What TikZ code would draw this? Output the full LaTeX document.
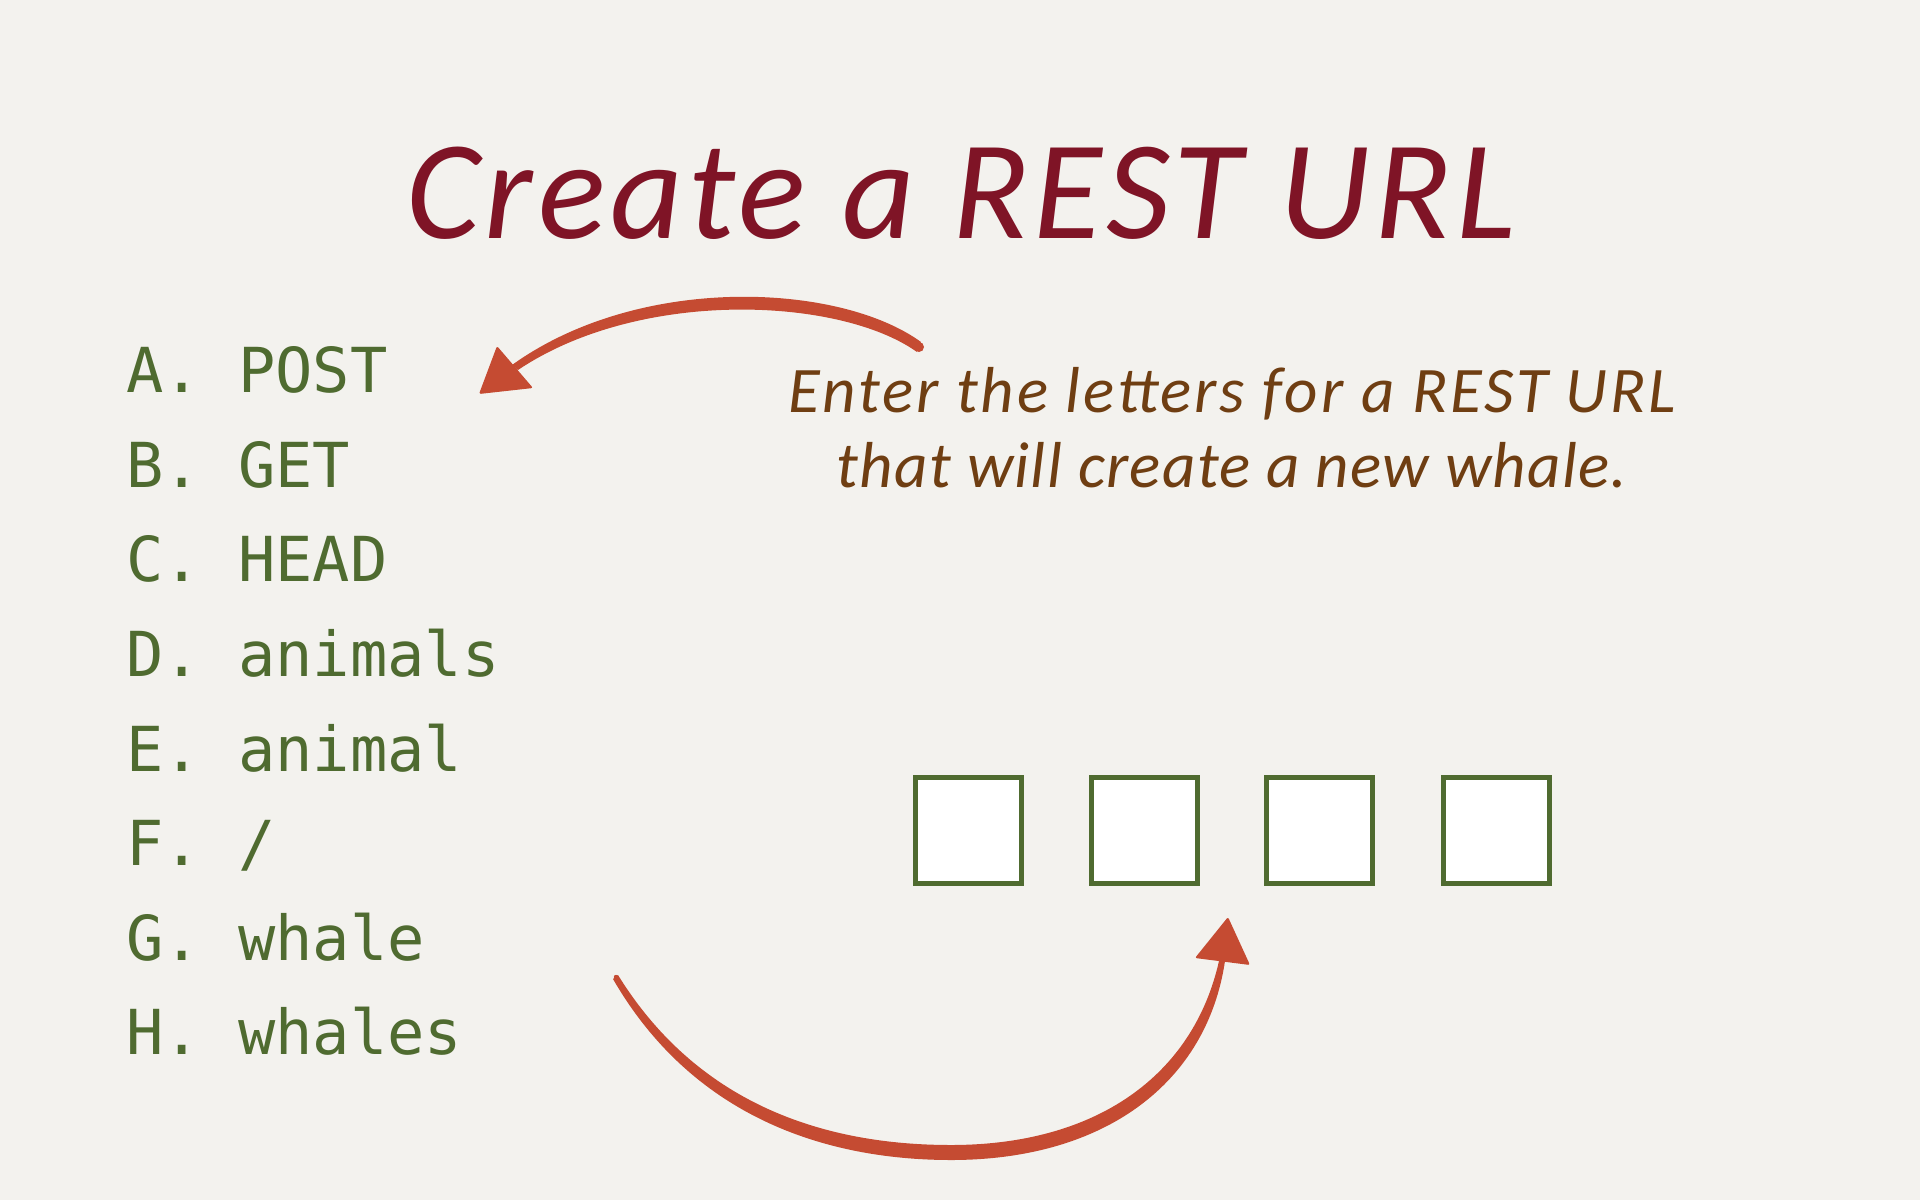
\documentclass[tikz,border=0pt]{standalone}
\usepackage{fontspec}
\setmainfont{Carlito}
\setmonofont{DejaVu Sans Mono}
\newfontfamily\titlefont{Carlito}[LetterSpace=3.5]
\newfontfamily\subfont{Carlito}[LetterSpace=4.5]
\newfontfamily\subfonttwo{Carlito}[LetterSpace=2]
\definecolor{paper}{RGB}{243,242,238}
\definecolor{titlered}{RGB}{127,20,38}
\definecolor{subbrown}{RGB}{111,62,18}
\definecolor{listgreen}{RGB}{79,107,48}
\definecolor{arrowred}{RGB}{197,75,50}
\begin{document}
\begin{tikzpicture}[x=1pt,y=-1pt,
  titletext/.style={anchor=base,inner sep=0,text=titlered,font=\fontsize{141}{160}\titlefont\itshape},
  subtext/.style={anchor=base,inner sep=0,text=subbrown,font=\fontsize{65}{78}\subfont\itshape},
  subtexttwo/.style={anchor=base,inner sep=0,text=subbrown,font=\fontsize{65}{78}\subfonttwo\itshape},
  item/.style={anchor=base west,inner sep=0,text=listgreen,font=\fontsize{62}{74}\selectfont\ttfamily},
  slot/.style={draw=listgreen,line width=5pt,fill=white,minimum size=106pt,inner sep=0},
  arrowfill/.style={fill=arrowred,draw=none}]
\fill[paper] (0,0) rectangle (1920,1200);
\useasboundingbox (0,0) rectangle (1920,1200);
% title
\node[titletext] (title) at (961,238) {Create a REST URL};
% instructions
\node[subtext] (sub1) at (1232,412) {Enter the letters for a REST URL};
\node[subtexttwo] (sub2) at (1232,487) {that will create a new whale.};
% list
\node[item] (iA) at (126,392.7) {A. POST};
\node[item] (iB) at (126,487.3) {B. GET};
\node[item] (iC) at (126,581.9) {C. HEAD};
\node[item] (iD) at (126,676.5) {D. animals};
\node[item] (iE) at (126,771.1) {E. animal};
\node[item] (iF) at (126,865.7) {F. /};
\node[item] (iG) at (126,960.3) {G. whale};
\node[item] (iH) at (126,1054.9) {H. whales};
% answer slots
\node[slot] (s1) at (968.5,830) {};
\node[slot] (s2) at (1144,830) {};
\node[slot] (s3) at (1319,830) {};
\node[slot] (s4) at (1496,830) {};
% top arrow (towards the list)
\coordinate (tstart) at (919,347);
\coordinate (ttip) at (479,394);
\fill[arrowfill] (921,342) .. controls (840,283) and (640,273) .. (512,365)
  -- (518,370) .. controls (640,288) and (840,297) .. (917,352) -- cycle;
\fill[arrowfill] (tstart) circle (5);
\fill[arrowfill,rounded corners=2pt] (ttip) -- (497,346) -- (533,388) -- cycle;
% bottom arrow (towards the slots)
\coordinate (bstart) at (616,977);
\coordinate (btip) at (1228,917);
\fill[arrowfill] (613,979) .. controls (698,1126) and (840,1160) .. (951,1160)
  .. controls (1106,1160) and (1207,1082) .. (1225,961)
  -- (1219,961) .. controls (1193,1076) and (1096,1145) .. (951,1145)
  .. controls (840,1145) and (704,1114) .. (618,975) -- cycle;
\fill[arrowfill] (bstart) circle (2.2);
\fill[arrowfill,rounded corners=2pt] (btip) -- (1250,965) -- (1195,958) -- cycle;
\end{tikzpicture}
\end{document}
